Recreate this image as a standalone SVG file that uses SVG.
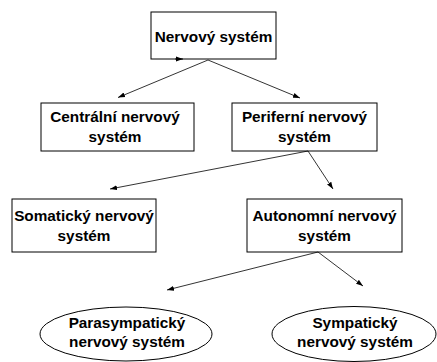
<svg xmlns="http://www.w3.org/2000/svg" width="437" height="362" viewBox="0 0 437 362">
<style>
.box{fill:#fff;stroke:#000;stroke-width:1}
.ell{fill:#fff;stroke:#000;stroke-width:1}
.t{font-family:"Liberation Sans",Arial,sans-serif;font-weight:bold;font-size:15.33px;fill:#000;text-anchor:middle}
.c{stroke:#000;stroke-width:0.8;fill:none;marker-end:url(#ah)}
</style>
<defs>
<marker id="ah" markerUnits="userSpaceOnUse" markerWidth="8" markerHeight="6" refX="7" refY="3" orient="auto">
<path d="M0,0.5 L7,3 L0,5.5 z" fill="#000"/>
</marker>
</defs>
<rect width="437" height="362" fill="#fff"/>
<g id="n1"><rect class="box" x="151" y="12" width="125" height="47"/><text class="t" x="213.5" y="42">Nervový systém</text></g>
<g id="n2"><rect class="box" x="41" y="103" width="153" height="48"/><text class="t" x="115" y="122">Centrální nervový</text><text class="t" x="115" y="141.5">systém</text></g>
<g id="n3"><rect class="box" x="232" y="103" width="145" height="48"/><text class="t" x="304.5" y="122">Periferní nervový</text><text class="t" x="304.5" y="141.5">systém</text></g>
<g id="n4"><rect class="box" x="12" y="199" width="144" height="53"/><text class="t" x="84" y="220.5">Somatický nervový</text><text class="t" x="84" y="240.5">systém</text></g>
<g id="n5"><rect class="box" x="247" y="199" width="155" height="53"/><text class="t" x="324.5" y="220.5">Autonomní nervový</text><text class="t" x="324.5" y="240.5">systém</text></g>
<g id="n6"><ellipse class="ell" cx="126" cy="334" rx="86" ry="27"/><text class="t" x="127" y="327.5">Parasympatický</text><text class="t" x="127" y="346.5">nervový systém</text></g>
<g id="n7"><ellipse class="ell" cx="354" cy="334" rx="82" ry="27.5"/><text class="t" x="355" y="327.5">Sympatický</text><text class="t" x="355" y="346.5">nervový systém</text></g>
<g id="connectors">
<line class="c" x1="208" y1="60" x2="118" y2="97.5"/>
<line class="c" x1="208" y1="60" x2="300" y2="98"/>
<line class="c" x1="308" y1="151" x2="110" y2="189"/>
<line class="c" x1="308" y1="151" x2="333" y2="189"/>
<line class="c" x1="318" y1="252" x2="167" y2="290"/>
<line class="c" x1="318" y1="252" x2="363" y2="286"/>
<line class="c" x1="175" y1="59" x2="183" y2="59"/>
</g>
</svg>
